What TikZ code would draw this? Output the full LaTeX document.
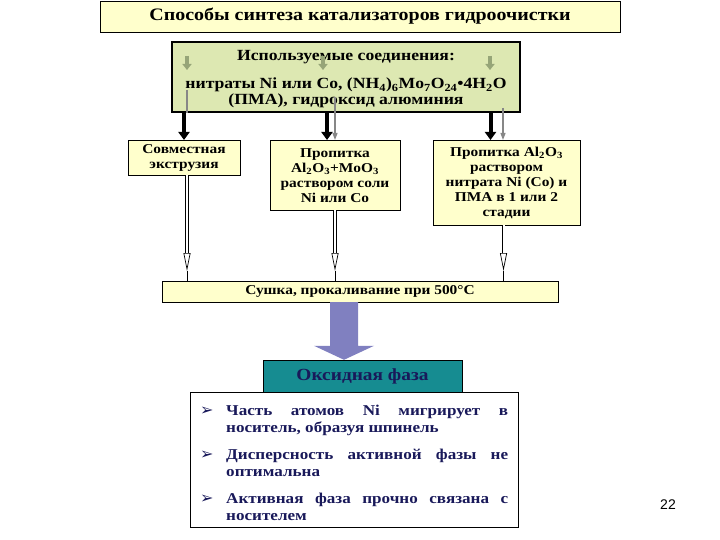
\documentclass[tikz,border=0pt]{standalone}
\usepackage{fontspec}
\setmainfont{Liberation Serif}
\newfontfamily\widefont{Liberation Serif}[FakeStretch=1.14]
\newfontfamily\symfont{DejaVu Sans}
\newfontfamily\numfont{Liberation Sans}
\usetikzlibrary{arrows.meta}

\definecolor{lightyel}{RGB}{255,255,204}
\definecolor{compfill}{RGB}{221,232,178}
\definecolor{smallarr}{RGB}{150,165,120}
\definecolor{grayarr}{RGB}{135,135,135}
\definecolor{bigarr}{RGB}{128,128,192}
\definecolor{oxfill}{RGB}{22,140,145}
\definecolor{navy}{RGB}{25,25,90}

\def\xunit{1pt}
\def\yunit{-1pt}

\newcommand{\litem}[1]{\par\hangindent=26pt\hangafter=1\noindent\makebox[26pt][l]{\symfont\fontsize{16}{16}\selectfont ➢}#1\par}

\tikzset{
  ybox/.style={draw, fill=lightyel, align=center, inner sep=3pt,
    font=\widefont\bfseries\fontsize{13.5}{15}\selectfont},
  blk/.style={line width=4pt, -{Triangle[width=11pt,length=8pt]}},
  grayln/.style={draw=grayarr, line width=1.2pt},
  smallar/.style={draw=smallarr, line width=4pt, -{Triangle[width=9pt,length=6pt]}},
  hol/.style={double, double distance=2pt, line width=0.7pt,
    -{Triangle[open,width=7pt,length=18pt]}},
}

\begin{document}
\begin{tikzpicture}[x=\xunit, y=\yunit]
\useasboundingbox (0,0) rectangle (720,540);

% ---- title ----
\node[ybox, minimum width=520, minimum height=31,
  font=\widefont\bfseries\fontsize{17.5}{19}\selectfont] (title) at (360,16.5)
  {Способы синтеза катализаторов гидроочистки};

% ---- compounds box ----
\node[draw, line width=1.8pt, fill=compfill, align=center,
  minimum width=348, minimum height=70,
  font=\widefont\bfseries\fontsize{15.5}{15.5}\selectfont] (comp) at (346,77)
  {\rule{0pt}{14pt}Используемые соединения:\\[13pt]
   нитраты Ni или Co, (NH\textsubscript{4})\textsubscript{6}Mo\textsubscript{7}O\textsubscript{24}•4H\textsubscript{2}O\\
   (ПМА), гидроксид алюминия};

% small arrows inside the box
\foreach \x/\n in {187/1, 323/2, 490/3} {
  \coordinate (sa\n) at (\x,56);
  \draw[smallar] (sa\n) -- ++(0,14);
}

% ---- methods ----
\node[ybox, anchor=north, minimum width=112, minimum height=35] (ext) at (184,140)
  {Совместная\\экструзия};
\node[ybox, anchor=north, minimum width=130, minimum height=70] (imp1) at (335,140)
  {Пропитка\\Al\textsubscript{2}O\textsubscript{3}+MoO\textsubscript{3}\\раствором соли\\Ni или Co};
\node[ybox, anchor=north, minimum width=147, minimum height=85] (imp2) at (506.5,140)
  {Пропитка Al\textsubscript{2}O\textsubscript{3}\\раствором\\нитрата Ni (Co) и\\ПМА в 1 или 2\\стадии};

% black arrows
\coordinate (b2) at ([xshift=-8]imp1.north);
\coordinate (b3) at ([xshift=-16]imp2.north);
\draw[blk] (ext.north |- comp.south) -- (ext.north);
\draw[blk] (b2 |- comp.south) -- (b2);
\draw[blk] (b3 |- comp.south) -- (b3);

% gray thin arrows
\coordinate (g1) at (187,90);
\coordinate (g2) at (335,97);
\coordinate (g3) at (503,108);
\draw[grayln] (g1) -- (g1 |- comp.south);
\draw[grayln, -{Triangle[width=5pt,length=7pt]}] (g2) -- (g2 |- imp1.north);
\draw[grayln, -{Triangle[width=5pt,length=7pt]}] (g3) -- (g3 |- imp2.north);

% ---- drying ----
\node[ybox, minimum width=396, minimum height=21] (dry) at (360,291.5)
  {Сушка, прокаливание при 500°С};

% hollow arrows to drying
\coordinate (tipy) at (0,271);
\coordinate (h1) at ([xshift=3]ext.south);
\coordinate (h2) at (imp1.south);
\coordinate (h3) at ([xshift=-3]imp2.south);
\foreach \h in {h1,h2,h3} {
  \draw[hol] (\h) -- (\h |- tipy);
  \draw[line width=1pt] (\h |- tipy) -- (\h |- dry.north);
}

% ---- oxide phase ----
\node[draw, fill=oxfill, text=navy, minimum width=199, minimum height=32,
  font=\widefont\bfseries\fontsize{17}{18}\selectfont] (oxide) at (362.5,376) {Оксидная фаза};

% big arrow
\coordinate (atop) at ([xshift=-16]dry.south);
\coordinate (abot) at (atop |- oxide.north);
\fill[bigarr] ([xshift=-14]atop) -- ([xshift=14]atop) -- ([xshift=14,yshift=14]abot)
  -- ([xshift=30,yshift=14]abot) -- (abot) -- ([xshift=-30,yshift=14]abot)
  -- ([xshift=-14,yshift=14]abot) -- cycle;

% ---- properties ----
\node[draw, fill=white, anchor=north west, text=navy, align=justify,
  text width=308, inner xsep=10, inner ysep=6, minimum height=135,
  font=\widefont\bfseries\fontsize{15}{16.5}\selectfont] (props) at (190,392)
  {\litem{Часть атомов Ni мигрирует в\linebreak носитель, образуя шпинель}\vspace{11pt}
   \litem{Дисперсность активной фазы не\linebreak оптимальна}\vspace{11pt}
   \litem{Активная фаза прочно связана с\linebreak носителем}};

% page number
\node[font=\numfont\fontsize{14}{16}\selectfont] (pagenum) at (668,505) {22};

\end{tikzpicture}
\end{document}
